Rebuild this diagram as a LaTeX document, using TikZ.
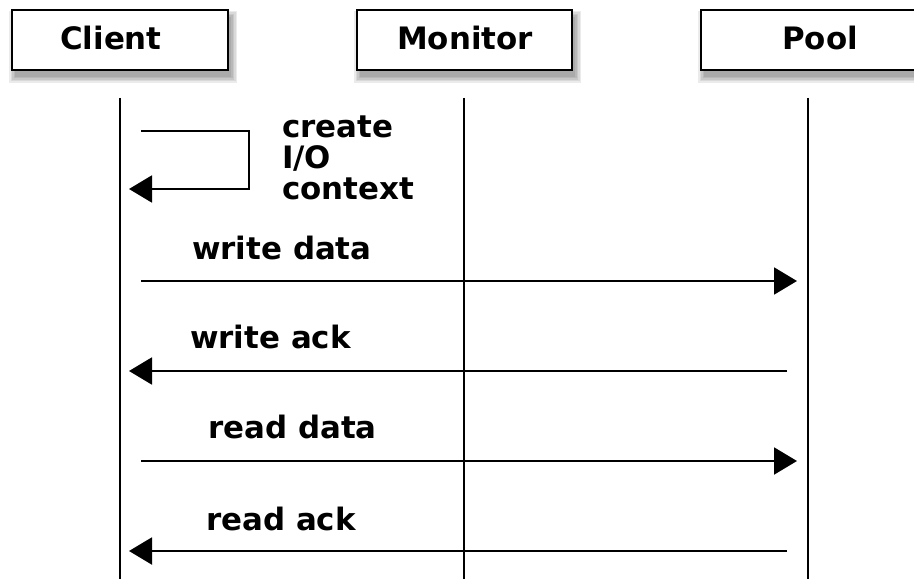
\documentclass[tikz,border=0pt]{standalone}
\usepackage{fontspec}
\setmainfont{DejaVu Sans}
\usetikzlibrary{arrows.meta}
\begin{document}
\begin{tikzpicture}[x=1bp,y=-1bp,
  lbl/.style={font=\fontsize{31}{31}\selectfont\bfseries, inner sep=0pt, anchor=base west},
  actor/.style={draw, line width=2.2bp, fill=white, inner sep=0pt},
  life/.style={line width=2bp},
  msg/.style={line width=2bp, -{Triangle[length=23bp,width=27bp]}},
  shade/.style={fill=black, opacity=0.08, draw=none},
]
\useasboundingbox (0,0) rectangle (914,579);
% soft shadows
\foreach \xa/\xb in {12/228, 357/572, 701/916}{
  \foreach \e in {0,1.5,3,4.5,6}{
    \fill[shade] (\xa+3-\e,10+7-\e) rectangle (\xb+3+\e,70+7+\e);
  }
}
% actor boxes
\node[actor, minimum width=216bp, minimum height=60bp] (client) at (120,40) {};
\node[actor, minimum width=215bp, minimum height=60bp] (monitor) at (464.5,40) {};
\node[actor, minimum width=215bp, minimum height=60bp] (pool) at (808.5,40) {};
\node[lbl] (tclient) at (60,50) {Client};
\node[lbl] (tmonitor) at (397,50) {Monitor};
\node[lbl] (tpool) at (782,50) {Pool};
% lifelines
\coordinate (c-top) at (120,98);  \coordinate (c-bot) at (120,579);
\coordinate (m-top) at (464,98);  \coordinate (m-bot) at (464,579);
\coordinate (p-top) at (808,98);  \coordinate (p-bot) at (808,579);
\draw[life] (c-top) -- (c-bot);
\draw[life] (m-top) -- (m-bot);
\draw[life] (p-top) -- (p-bot);
% self message
\coordinate (s1) at (141,131);
\coordinate (s2) at (249,131);
\coordinate (s3) at (249,189);
\coordinate (s4) at (129,189);
\draw[msg] (s1) -- (s2) -- (s3) -- (s4);
\node[lbl] (cr1) at (282,138) {create};
\node[lbl] (cr2) at (282,169) {I/O};
\node[lbl] (cr3) at (282,200) {context};
% messages
\coordinate (wd1) at (141,281); \coordinate (wd2) at (797,281);
\coordinate (wa1) at (787,371); \coordinate (wa2) at (129,371);
\coordinate (rd1) at (141,461); \coordinate (rd2) at (797,461);
\coordinate (ra1) at (787,551); \coordinate (ra2) at (129,551);
\draw[msg] (wd1) -- (wd2);
\draw[msg] (wa1) -- (wa2);
\draw[msg] (rd1) -- (rd2);
\draw[msg] (ra1) -- (ra2);
\node[lbl] (lwd) at (192,260) {write data};
\node[lbl] (lwa) at (190,348) {write ack};
\node[lbl] (lrd) at (208,438) {read data};
\node[lbl] (lra) at (206,530) {read ack};
\end{tikzpicture}
\end{document}
